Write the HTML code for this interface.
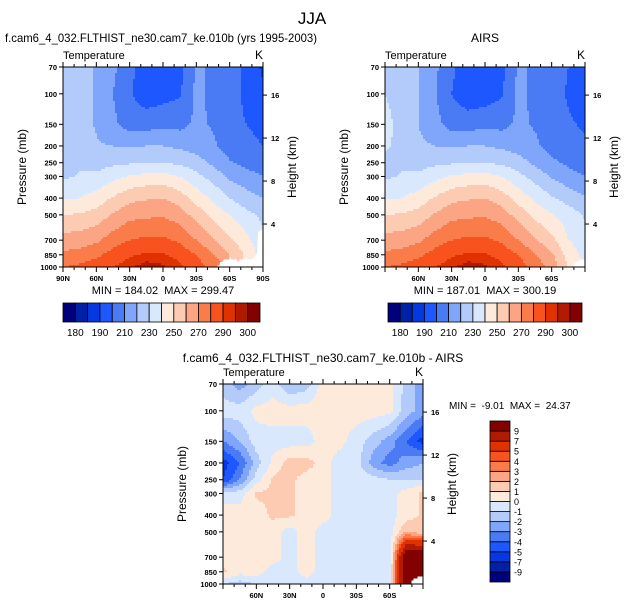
<!DOCTYPE html>
<html><head><meta charset="utf-8">
<style>
body{margin:0;background:#fff;}
svg{display:block;font-family:"Liberation Sans",sans-serif;}
text{white-space:pre;}
</style></head>
<body>
<svg id="fig" width="625" height="606" viewBox="0 0 625 606" xmlns="http://www.w3.org/2000/svg"></svg>
<script>
// ---- data ----
const lats = [90,75,60,45,30,15,0,-15,-30,-45,-60,-75,-90];
const pLevels = [70,100,150,200,250,300,400,500,700,850,1000];
const modelT = [
 [226,225,219,212,203,194,194,196,212,208,205,198,188],
 [226,225,219,210,201,194,196,199,212,208,204,198,192],
 [226,225,219,212,206,206,208,207,212,209,203,200,198],
 [226,226,221,220,219,220,220,218,216,212,205,202,200],
 [226,228,226,228,229,230,230,228,224,218,211,207,204],
 [228,231,232,237,241,243,244,240,233,226,218,214,210],
 [240,240,244,251,257,259,260,255,246,238,230,224,220],
 [250,251,254,261,267,268,269,265,256,247,240,233,228],
 [264,265,268,275,280,282,282,278,270,261,252,243,232],
 [272,274,278,284,289,291,291,287,280,271,260,248,235],
 [280,282,285,290,294,298,296,292,285,276,null,null,null]
];
const airsT = [
 [228,226,220,212,202,194,194,197,212,208,205,200,190],
 [230,227,220,211,200,193,195,199,212,208,204,199,194],
 [232,228,220,213,206,206,207,207,212,209,204,201,199],
 [231,228,222,220,219,220,220,218,216,212,206,203,201],
 [228,228,226,228,229,230,230,228,224,218,212,208,205],
 [228,231,232,237,241,243,244,240,233,226,219,214,210],
 [240,240,244,251,257,259,260,255,246,238,231,226,221],
 [250,251,254,261,267,268,269,265,256,247,241,235,229],
 [264,265,268,275,280,282,282,278,270,261,253,240,234],
 [272,274,278,284,289,291,291,287,280,271,262,246,236],
 [280,282,285,290,294,298,296,292,285,276,266,250,null]
];
const diffT = [
 [-1.5,-2.5,-1.5,-0.5,-2,-1.5,0.5,0.5,0.5,0.5,0.5,-1.5,-2.5],
 [-0.5,-0.5,0.3,0.5,0.5,0.5,0.5,0.5,0.5,0.5,0.3,-1.5,-2.5],
 [-3,-2,-0.5,-0.5,-0.5,-0.5,0.5,0.3,-0.5,-1.5,-2.5,-4,-5.5],
 [-5.5,-4,-1.5,0.3,1.5,1.5,0.5,-0.5,-0.5,-2.5,-3.5,-2.5,-2],
 [-5,-3,-0.5,1.2,1.3,0.5,0.5,-0.5,-0.5,-0.5,-1,-1,-1],
 [-0.5,-0.5,1.2,1.2,1.2,0.5,0.5,-0.5,-0.5,-0.5,-0.5,0.5,1.2],
 [0.5,0.5,0.5,1.2,1.2,0.5,0.5,-0.5,-0.5,-0.5,-0.5,0.5,1.2],
 [0.5,0.5,0.5,0.5,-0.5,0.5,-0.5,-0.5,-0.5,-0.5,-0.5,2,1.2],
 [0.5,0.5,0.5,0.5,-0.5,0.5,-0.5,-0.5,-0.5,-0.5,-1,12,12],
 [1.2,0.5,0.5,-0.5,-0.5,0.5,-0.5,-0.5,-0.5,-0.5,-0.5,12,10],
 [-1,-1.5,-1,-0.5,-1,-0.5,-0.5,-0.5,-0.5,-0.5,-0.5,12,null]
];
const tLevels = [180,185,190,200,210,220,230,240,250,260,270,280,290,295,300];
const tLabels = ["180","190","210","230","250","270","290","300"];
const dLevels = [-9,-7,-5,-4,-3,-2,-1,0,1,2,3,4,5,7,9];
const dLabels = ["-9","-7","-5","-4","-3","-2","-1","0","1","2","3","4","5","7","9"];
const pTicks = [70,100,150,200,250,300,400,500,700,850,1000];
const zTicks = [4,8,12,16];
const colors = ["#00007f","#0020a8","#0538e0","#1f57ff","#4a7bf5","#80a6fb","#b3cbfb","#d9e8fd",
                "#feeadb","#fdcbb2","#fca584","#fb7c4b","#f8521e","#e03200","#b21a00","#820000"];

const svg = document.getElementById('fig');
const NS = 'http://www.w3.org/2000/svg';
function mk(tag, attrs, parent){const e=document.createElementNS(NS,tag);for(const k in attrs)e.setAttribute(k,attrs[k]);(parent||svg).appendChild(e);return e;}
function txt(s,x,y,size,anchor,parent,name,extra){const t=mk('text',Object.assign({x:x,y:y,'font-size':size,'text-anchor':anchor||'start',fill:'#000'},extra||{}),parent);t.textContent=s;return t;}

function classOf(v,lv){let i=0;while(i<lv.length&&v>=lv[i])i++;return i;}
function sample(grid,fi,fj){
  const i0=Math.min(Math.floor(fi),grid.length-2), j0=Math.min(Math.floor(fj),grid[0].length-2);
  const a=fi-i0,b=fj-j0;
  const v00=grid[i0][j0],v01=grid[i0][j0+1],v10=grid[i0+1][j0],v11=grid[i0+1][j0+1];
  const w=[[v00,(1-a)*(1-b)],[v01,(1-a)*b],[v10,a*(1-b)],[v11,a*b]];
  let s=0,ws=0;for(const [v,ww] of w){if(v===null){if(ww>0.25)return null;continue;}s+=v*ww;ws+=ww;}
  return ws>0?s/ws:null;
}
const lp = pLevels.map(p=>Math.log(p));
function pIndex(p){const l=Math.log(p);for(let i=0;i<lp.length-1;i++){if(l<=lp[i+1])return i+(l-lp[i])/(lp[i+1]-lp[i]);}return lp.length-1;}

function panel(x0,y0,grid,lv,name,xTickLabels){
  const W=200,H=200;
  const g=mk('g',{});
  
  
  const yOf=p=>y0+H*Math.log(p/70)/Math.log(1000/70);
  const xOf=lat=>x0+W*(90-lat)/180;
  const step=2;
  for(let py=0;py<H;py+=step){
    const p=70*Math.exp((py+step/2)/H*Math.log(1000/70));
    const fi=pIndex(p);
    let runStart=0,runC=null;
    for(let px=0;px<=W;px+=step){
      let c=-1;
      if(px<W){
        const lat=90-(px+step/2)/W*180;
        const fj=(90-lat)/15;
        const v=sample(grid,fi,fj);
        c=v===null?-2:classOf(v,lv);
      }
      if(c!==runC){
        if(runC!==null&&runC>=0){
          const r=mk('rect',{x:x0+runStart,y:y0+py,width:px-runStart+0.5,height:step+0.5,fill:colors[runC]},g);
          
          
        }
        runStart=px;runC=c;
      }
    }
  }
  const frame=mk('rect',{x:x0,y:y0,width:W,height:H,fill:'none',stroke:'#000','stroke-width':1},g);
  
  pTicks.forEach(p=>{const y=yOf(p);mk('line',{x1:x0-4,x2:x0,y1:y,y2:y,stroke:'#000'},g);
    txt(String(p),x0-6,y+3,7.5,'end',g,'pressure-tick-label',{'font-weight':'bold'});});
  zTicks.forEach(z=>{const p=1000*Math.exp(-z/7);const y=yOf(p);mk('line',{x1:x0+W,x2:x0+W+4,y1:y,y2:y,stroke:'#000'},g);
    txt(String(z),x0+W+8,y+3,7.5,'start',g,'height-tick-label',{'font-weight':'bold'});});
  for(let lat=90;lat>=-90;lat-=10){const x=xOf(lat);const major=lat%30===0;
    mk('line',{x1:x,x2:x,y1:y0+H,y2:y0+H+(major?5:3),stroke:'#000'},g);
    mk('line',{x1:x,x2:x,y1:y0,y2:y0-(major?5:3),stroke:'#000'},g);}
  xTickLabels.forEach(lat=>{const s=lat===0?'0':(Math.abs(lat)+(lat>0?'N':'S'));
    txt(s,xOf(lat),y0+H+14,7.5,'middle',g,'lat-tick-label',{'font-weight':'bold'});});
  txt('Temperature',x0,y0-8,11,'start',g,'panel-variable-label');
  txt('K',x0+W,y0-8,12,'end',g,'units-label');
  txt('Pressure (mb)',0,0,12,'middle',g,'y-axis-title',{transform:`translate(${x0-37},${y0+H/2}) rotate(-90)`});
  txt('Height (km)',0,0,12,'middle',g,'y2-axis-title',{transform:`translate(${x0+W+33},${y0+H/2}) rotate(-90)`});
  return {g,xOf,yOf};
}

txt('JJA',312,24,17,'middle',svg,'figure-title');
txt('f.cam6_4_032.FLTHIST_ne30.cam7_ke.010b (yrs 1995-2003)',5,42,12,'start',svg,'left-panel-title',{textLength:312,lengthAdjust:'spacingAndGlyphs'});
txt('AIRS',485,42,12,'middle',svg,'right-panel-title');
txt('f.cam6_4_032.FLTHIST_ne30.cam7_ke.010b - AIRS',323,362,12,'middle',svg,'diff-panel-title');

const A=panel(63,67,modelT,tLevels,'model-panel',[90,60,30,0,-30,-60,-90]);
const m=mk('path',{d:'M220,262 L250,262 L257,254 L258,232 L263,229 L263,267 L220,267 Z',fill:'#fff'},A.g);

mk('rect',{x:63,y:67,width:200,height:200,fill:'none',stroke:'#000'},A.g);
panel(385,67,airsT,tLevels,'airs-panel',[60,30,0,-30,-60]);
panel(223,384,diffT,dLevels,'diff-panel',[60,30,0,-30,-60]);

txt('MIN = 184.02  MAX = 299.47',163,294,11,'middle',svg,'model-min-max');
txt('MIN = 187.01  MAX = 300.19',485,294,11,'middle',svg,'airs-min-max');
txt('MIN =  -9.01  MAX =  24.37',449,409,10,'start',svg,'diff-min-max');

function hbar(x0,y0,w,h,name){
  const g=mk('g',{});
  const n=colors.length,bw=w/n;
  colors.forEach((c,i)=>{const r=mk('rect',{x:x0+i*bw,y:y0,width:bw,height:h,fill:c,stroke:'#000','stroke-width':0.8},g);
    });
  tLabels.forEach((s,k)=>{const i=tLevels.indexOf(+s);txt(s,x0+(i+1)*bw,y0+h+14,10,'middle',g,'colorbar-label');});
}
hbar(63,303,197,19,'model-colorbar');
hbar(388,303,194,19,'airs-colorbar');
(function(){
  const x0=490,y0=421,w=20,h=161;const g=mk('g',{});
  const n=colors.length,bh=h/n;
  colors.forEach((c,i)=>{const r=mk('rect',{x:x0,y:y0+h-(i+1)*bh,width:w,height:bh,fill:c,stroke:'#000','stroke-width':0.8},g);
    });
  dLabels.forEach((s,i)=>{txt(s,x0+w+4,y0+h-(i+1)*bh+3.5,9,'start',g,'colorbar-label');});
})();
</script>
</body></html>
